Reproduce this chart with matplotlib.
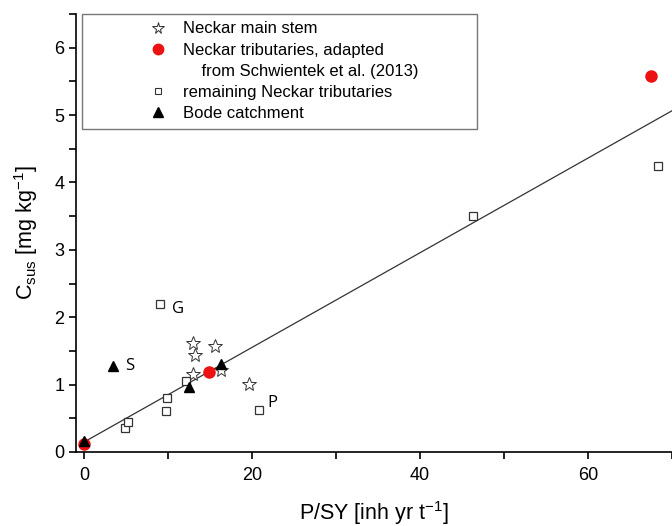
import matplotlib
matplotlib.use("Agg")
import matplotlib.pyplot as plt
from matplotlib.lines import Line2D
from matplotlib.ticker import MultipleLocator
import numpy as np

plt.rcParams['font.family'] = ['Liberation Sans', 'DejaVu Sans']

# Neckar main stem (stars)
stem_x = [13.0, 15.6, 13.2, 12.9, 16.3, 19.6]
stem_y = [1.62, 1.58, 1.44, 1.16, 1.21, 1.01]
# Neckar tributaries adapted from Schwientek et al. (2013) (red circles)
trib_x = [0.0, 14.9, 67.5]
trib_y = [0.12, 1.19, 5.58]
# remaining Neckar tributaries (open squares)
rem_x = [4.9, 5.2, 9.7, 9.8, 12.1, 20.8, 9.0, 46.3, 68.3]
rem_y = [0.36, 0.44, 0.61, 0.80, 1.05, 0.62, 2.20, 3.50, 4.24]
# Bode catchment (triangles)
bode_x = [0.0, 3.45, 12.5, 16.3]
bode_y = [0.16, 1.27, 0.96, 1.30]
# regression line
fit_slope = 0.0702
fit_intercept = 0.15
fit_range = [0.0, 70.5]
# annotations
ann_text = ["G", "S", "P"]
ann_x = [10.4, 4.9, 21.8]
ann_y = [2.12, 1.27, 0.72]

fig = plt.figure(figsize=(6.72, 5.26), dpi=100)
ax = fig.add_axes([0.113, 0.1407, 0.887, 0.8327])

fx = np.array(fit_range)
ax.plot(fx, fit_intercept + fit_slope * fx, color='#333333', lw=0.9, zorder=1)

ax.plot(stem_x, stem_y, linestyle='none', marker='*', markersize=10.5,
        markerfacecolor='white', markeredgecolor='#333333', markeredgewidth=0.7, zorder=3)
ax.plot(rem_x, rem_y, linestyle='none', marker='s', markersize=5.5,
        markerfacecolor='white', markeredgecolor='#333333', markeredgewidth=0.9, zorder=3)
ax.plot(trib_x, trib_y, linestyle='none', marker='o', markersize=8,
        markerfacecolor='#ee1111', markeredgecolor='#ee1111', zorder=4)
ax.plot(bode_x, bode_y, linestyle='none', marker='^', markersize=7,
        markerfacecolor='black', markeredgecolor='black', zorder=5)

for t, x, y in zip(ann_text, ann_x, ann_y):
    ax.text(x, y, t, fontsize=12, family=['Open Sans', 'DejaVu Sans'],
            va='center', ha='left')

ax.set_xlim(-1, 70)
ax.set_ylim(0, 6.5)
ax.xaxis.set_major_locator(MultipleLocator(20))
ax.xaxis.set_minor_locator(MultipleLocator(10))
ax.yaxis.set_major_locator(MultipleLocator(1))
ax.yaxis.set_minor_locator(MultipleLocator(0.5))
ax.tick_params(which='both', direction='out', length=5, width=1.2, labelsize=13)
ax.tick_params(axis='x', pad=6)
for s in ['top', 'right']:
    ax.spines[s].set_visible(False)
for s in ['left', 'bottom']:
    ax.spines[s].set_linewidth(1.2)

ax.set_xlabel('P/SY [inh yr t$^{\\mathregular{-1}}$]', fontsize=15.5, labelpad=11)
ax.set_ylabel('C$_{\\mathregular{sus}}$ [mg kg$^{\\mathregular{-1}}$]', fontsize=15.5, labelpad=10)

handles = [
    Line2D([], [], linestyle='none', marker='*', markersize=8.5,
           markerfacecolor='white', markeredgecolor='#333333', markeredgewidth=0.7),
    Line2D([], [], linestyle='none', marker='o', markersize=7.5,
           markerfacecolor='#ee1111', markeredgecolor='#ee1111'),
    Line2D([], [], linestyle='none', marker=None),
    Line2D([], [], linestyle='none', marker='s', markersize=4.5,
           markerfacecolor='white', markeredgecolor='#333333', markeredgewidth=0.8),
    Line2D([], [], linestyle='none', marker='^', markersize=6.5,
           markerfacecolor='black', markeredgecolor='black'),
]
labels = ['Neckar main stem',
          'Neckar tributaries, adapted',
          '    from Schwientek et al. (2013)',
          'remaining Neckar tributaries',
          'Bode catchment']
leg = ax.legend(handles, labels, loc='upper left',
                bbox_to_anchor=(0.010, 1.0, 0.663, 0.0), mode='expand',
                fontsize=12, frameon=True, fancybox=False,
                handlelength=8.27, handletextpad=-2.63, borderpad=0.45,
                labelspacing=0.37, borderaxespad=0.0)
leg.get_frame().set_edgecolor('#555555')
leg.get_frame().set_linewidth(1.0)

fig.savefig('out.png', dpi=100)
